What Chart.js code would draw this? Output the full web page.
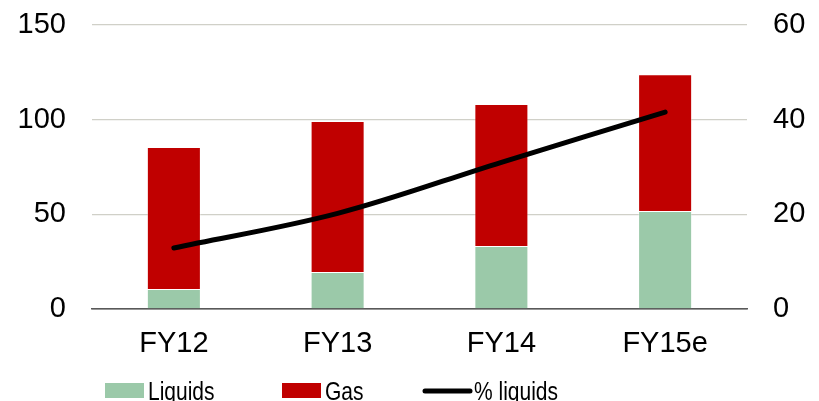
<!DOCTYPE html>
<html>
<head>
<meta charset="utf-8">
<script src="https://cdn.jsdelivr.net/npm/chart.js@4/dist/chart.umd.min.js"></script>
<style>
  html, body { margin: 0; padding: 0; background: #fff; overflow: hidden; }
  #wrap { width: 819px; height: 401px; }
</style>
</head>
<body>
<div id="wrap"><canvas id="grafico"></canvas></div>
<script>
// datos
const categorias = ['FY12', 'FY13', 'FY14', 'FY15e'];
const liquidos = [10.6, 19.5, 33.3, 51.8];
const gas = [75.0, 79.8, 75.0, 72.2];
const pctLiquidos = [12.9, 20.2, 31.0, 41.6];

const ticksIzq = [0, 50, 100, 150];
const ticksDer = [0, 20, 40, 60];

const fuente = 'Arial, "Liberation Sans", sans-serif';

// leyenda dibujada a mano (texto algo estrecho, como en el original)
function texto(ctx, t, x, y) {
  ctx.save();
  ctx.translate(x, y);
  ctx.scale(0.84, 1);
  ctx.fillText(t, 0, 0);
  ctx.restore();
}

const leyenda = {
  id: 'leyenda',
  afterDraw(chart) {
    const ctx = chart.ctx;
    const ds = chart.data.datasets;
    ctx.save();
    ctx.font = '25px ' + fuente;
    ctx.textBaseline = 'alphabetic';

    ctx.fillStyle = ds[0].backgroundColor;
    ctx.fillRect(105, 383, 39, 15);
    ctx.fillStyle = '#000';
    texto(ctx, ds[0].label, 148, 400);

    ctx.fillStyle = ds[1].backgroundColor;
    ctx.fillRect(282, 383, 39, 15);
    ctx.fillStyle = '#000';
    texto(ctx, ds[1].label, 325, 400);

    ctx.strokeStyle = ds[2].borderColor;
    ctx.lineWidth = 5;
    ctx.lineCap = 'round';
    ctx.beginPath();
    ctx.moveTo(425, 391);
    ctx.lineTo(470, 391);
    ctx.stroke();
    texto(ctx, ds[2].label, 474, 400);
    ctx.restore();
  }
};

// ancho fijo y sin relleno extra arriba/abajo
const fijarEje = ancho => s => {
  s.width = ancho;
  s.paddingTop = 0;
  s.paddingBottom = 0;
};

new Chart(document.getElementById('grafico'), {
  type: 'bar',
  data: {
    labels: categorias,
    datasets: [
      {
        label: 'Liquids',
        data: liquidos,
        backgroundColor: '#9BC9A9',
        borderColor: 'rgba(255,255,255,0.35)',
        borderWidth: 1,
        yAxisID: 'y',
        order: 1
      },
      {
        label: 'Gas',
        data: gas,
        backgroundColor: '#C00000',
        borderColor: 'rgba(255,255,255,0.35)',
        borderWidth: 1,
        yAxisID: 'y',
        order: 1
      },
      {
        type: 'line',
        label: '% liquids',
        data: pctLiquidos,
        borderColor: '#000',
        borderWidth: 5,
        borderCapStyle: 'round',
        tension: 0.35,
        pointRadius: 0,
        yAxisID: 'y1',
        order: 0
      }
    ]
  },
  options: {
    responsive: true,
    maintainAspectRatio: false,
    animation: false,
    layout: { padding: { top: 25, left: 0, right: 0, bottom: 0 } },
    datasets: {
      bar: { categoryPercentage: 1, barPercentage: 0.33 }
    },
    plugins: {
      legend: { display: false },
      tooltip: { enabled: false }
    },
    scales: {
      x: {
        stacked: true,
        afterFit: s => { s.height = 92; s.paddingLeft = 0; s.paddingRight = 0; },
        grid: { display: false },
        border: { display: true, color: '#595959', width: 1.5 },
        ticks: { color: '#000', font: { family: fuente, size: 29 }, padding: 10 }
      },
      y: {
        stacked: true,
        min: 0,
        max: 150,
        afterFit: fijarEje(92),
        afterBuildTicks: s => { s.ticks = ticksIzq.map(v => ({ value: v })); },
        grid: {
          drawTicks: false,
          color: c => c.tick && c.tick.value === 0 ? '#595959' : '#d0d0c8',
          lineWidth: 1.3
        },
        border: { display: false },
        ticks: { color: '#000', font: { family: fuente, size: 29 }, padding: 26 }
      },
      y1: {
        position: 'right',
        min: 0,
        max: 60,
        afterFit: fijarEje(72),
        afterBuildTicks: s => { s.ticks = ticksDer.map(v => ({ value: v })); },
        grid: { display: false, drawTicks: false },
        border: { display: false },
        ticks: { color: '#000', font: { family: fuente, size: 29 }, padding: 26 }
      }
    }
  },
  plugins: [leyenda]
});
</script>
</body>
</html>
